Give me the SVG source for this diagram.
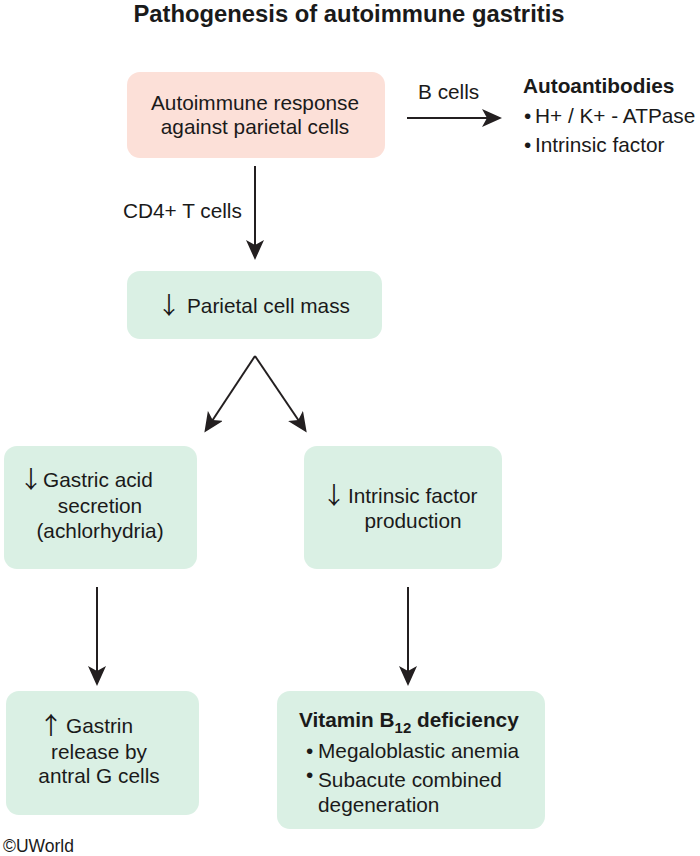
<svg xmlns="http://www.w3.org/2000/svg" width="700" height="856" viewBox="0 0 700 856">
<style>
text{font-family:"Liberation Sans",Arial,"DejaVu Sans",sans-serif;font-size:20.8px;fill:#1a1a1a}
.b{font-weight:bold}
.c{text-anchor:middle}
.ar{font-family:"Noto Sans CJK SC","DejaVu Sans",sans-serif;font-size:24px;text-anchor:middle}
.pink{fill:#fce0d8}
.green{fill:#daf0e4}
.conn{stroke:#231f20;stroke-width:2;fill:none}
</style>
<defs>
<marker id="ah" markerUnits="userSpaceOnUse" viewBox="0 0 20 18" markerWidth="20" markerHeight="18" refX="8" refY="9" orient="auto">
<path d="M0,0 L20,9 L0,18 L5,9 Z" fill="#231f20"/>
</marker>
</defs>
<rect width="700" height="856" fill="#ffffff"/>
<text class="b c" x="349" y="22" style="font-size:23.8px">Pathogenesis of autoimmune gastritis</text>

<g id="n-autoimmune">
<rect class="pink" x="127" y="72" width="258" height="86" rx="13"/>
<text class="c" x="255" y="110">Autoimmune response</text>
<text class="c" x="255" y="134">against parietal cells</text>
</g>

<g id="n-autoantibodies">
<text class="b" x="523" y="93">Autoantibodies</text>
<text x="524" y="123">•</text><text x="535" y="123">H+ / K+ - ATPase</text>
<text x="524" y="152">•</text><text x="535" y="152">Intrinsic factor</text>
</g>

<g id="n-parietal">
<rect class="green" x="127" y="271" width="255" height="68" rx="13"/>
<text class="ar" x="169" y="314">↓</text>
<text x="187" y="313">Parietal cell mass</text>
</g>

<g id="n-acid">
<rect class="green" x="4" y="446" width="193" height="123" rx="13"/>
<text class="ar" x="31" y="488">↓</text>
<text x="43" y="487">Gastric acid</text>
<text class="c" x="100" y="513">secretion</text>
<text class="c" x="100" y="538">(achlorhydria)</text>
</g>

<g id="n-if">
<rect class="green" x="304" y="446" width="198" height="123" rx="13"/>
<text class="ar" x="334" y="504">↓</text>
<text x="348" y="503">Intrinsic factor</text>
<text class="c" x="413" y="528">production</text>
</g>

<g id="n-gastrin">
<rect class="green" x="6" y="691" width="193" height="124" rx="13"/>
<text class="ar" x="51" y="734">↑</text>
<text x="66" y="733">Gastrin</text>
<text class="c" x="99" y="759">release by</text>
<text class="c" x="99" y="783">antral G cells</text>
</g>

<g id="n-b12">
<rect class="green" x="277" y="691" width="268" height="138" rx="13"/>
<text class="b" x="299" y="727">Vitamin B<tspan dy="6" style="font-size:15px">12</tspan><tspan dy="-6"> deficiency</tspan></text>
<text x="306" y="758">•</text><text x="318" y="758">Megaloblastic anemia</text>
<text x="306" y="782">•</text><text x="318" y="787">Subacute combined</text>
<text x="318" y="812">degeneration</text>
</g>

<g id="connectors">
<line class="conn" x1="255" y1="166" x2="255" y2="248" marker-end="url(#ah)"/>
<text x="123" y="218">CD4+ T cells</text>
<line class="conn" x1="407" y1="118" x2="490" y2="118" marker-end="url(#ah)"/>
<text x="418" y="99">B cells</text>
<path class="conn" d="M255,356 L212,421"/>
<path class="conn" d="M255,356 L299,421"/>
<line class="conn" x1="255" y1="356" x2="211" y2="422.5" marker-end="url(#ah)" stroke-opacity="0"/>
<line class="conn" x1="255" y1="356" x2="300" y2="422.5" marker-end="url(#ah)" stroke-opacity="0"/>
<line class="conn" x1="97" y1="587" x2="97" y2="674" marker-end="url(#ah)"/>
<line class="conn" x1="408" y1="587" x2="408" y2="674" marker-end="url(#ah)"/>
</g>

<text x="3" y="852" style="font-size:17.5px">©UWorld</text>
</svg>
